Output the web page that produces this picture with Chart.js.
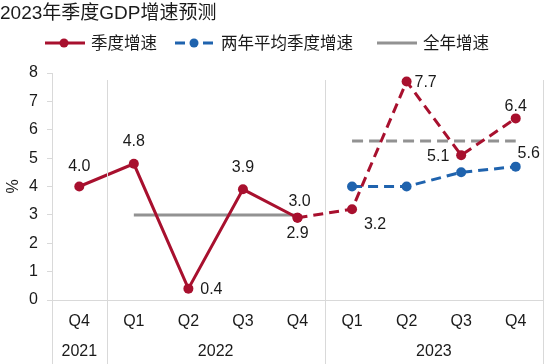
<!DOCTYPE html>
<html>
<head>
<meta charset="utf-8">
<script src="https://cdn.jsdelivr.net/npm/chart.js@4/dist/chart.umd.min.js"></script>
<style>
  html, body { margin: 0; padding: 0; background: #fff; }
  #wrap { width: 548px; height: 364px; position: relative; }
</style>
</head>
<body>
<div id="wrap"><canvas id="chart"></canvas></div>
<script>
const quarters = ["Q4", "Q1", "Q2", "Q3", "Q4", "Q1", "Q2", "Q3", "Q4"];
const years = ["2021", "2022", "2022", "2022", "2022", "2023", "2023", "2023", "2023"];
const actualGrowth = [4.0, 4.8, 0.4, 3.9, 2.9, null, null, null, null];
const forecastGrowth = [null, null, null, null, 2.9, 3.2, 7.7, 5.1, 6.4];
const twoYearAvg = [null, null, null, null, null, 4.0, 4.0, 4.5, 4.7];
const annual2022 = [null, 3.0, 3.0, 3.0, 3.0, null, null, null, null];
const annual2023 = [null, null, null, null, null, 5.6, 5.6, 5.6, 5.6];
const yTicks = [0, 1, 2, 3, 4, 5, 6, 7, 8];

const RED = "#A8102E";
const BLUE = "#1F63AE";
const GRAY = "#929292";
const LINE = "#d9d9d9";
const FONT = "Arial, 'Liberation Sans', 'Noto Sans CJK SC', sans-serif";

// which point gets a value label, and where it sits relative to the point
const labelSpots = [
    { ds: 0, i: 0, dx: 0, dy: -20 },
    { ds: 0, i: 1, dx: 0, dy: -22 },
    { ds: 0, i: 2, dx: 23, dy: 1 },
    { ds: 0, i: 3, dx: 0, dy: -22 },
    { ds: 0, i: 4, dx: 0, dy: 16 },
    { ds: 3, i: 4, dx: 2, dy: -13 },
    { ds: 1, i: 5, dx: 23, dy: 15 },
    { ds: 1, i: 6, dx: 19, dy: 1 },
    { ds: 1, i: 7, dx: -23, dy: 1 },
    { ds: 1, i: 8, dx: 0, dy: -12 },
    { ds: 4, i: 8, dx: 13, dy: 12 }
];

// legend: [dataset index, x of sample start]
const legendItems = [[0, 45], [2, 175], [3, 377]];

const valueLabels = {
    id: "valueLabels",
    afterDatasetsDraw(chart) {
        const ctx = chart.ctx;
        ctx.save();
        ctx.font = "16px " + FONT;
        ctx.fillStyle = "#1a1a1a";
        ctx.textAlign = "center";
        ctx.textBaseline = "middle";
        labelSpots.forEach(s => {
            const pt = chart.getDatasetMeta(s.ds).data[s.i];
            const v = chart.data.datasets[s.ds].data[s.i];
            ctx.fillText(v.toFixed(1), pt.x + s.dx, pt.y + s.dy);
        });
        ctx.restore();
    }
};

const groupAxis = {
    id: "groupAxis",
    afterDraw(chart) {
        const ctx = chart.ctx;
        const x = chart.scales.x;
        const area = chart.chartArea;
        const bottom = chart.height;
        ctx.save();
        ctx.strokeStyle = LINE;
        ctx.lineWidth = 1;
        // separators between years and at the right edge
        const seps = [];
        for (let i = 1; i < years.length; i++) {
            if (years[i] !== years[i - 1]) {
                seps.push((x.getPixelForValue(i - 1) + x.getPixelForValue(i)) / 2);
            }
        }
        seps.push(area.right);
        ctx.beginPath();
        seps.forEach(px => {
            ctx.moveTo(Math.round(px) + 0.5, area.top + 7);
            ctx.lineTo(Math.round(px) + 0.5, bottom);
        });
        ctx.moveTo(Math.round(area.left) + 0.5, area.bottom);
        ctx.lineTo(Math.round(area.left) + 0.5, bottom);
        ctx.stroke();
        // year labels centred under their quarters
        ctx.font = "16px " + FONT;
        ctx.fillStyle = "#1a1a1a";
        ctx.textAlign = "center";
        ctx.textBaseline = "middle";
        let start = 0;
        for (let i = 1; i <= years.length; i++) {
            if (i === years.length || years[i] !== years[start]) {
                const cx = (x.getPixelForValue(start) + x.getPixelForValue(i - 1)) / 2;
                ctx.fillText(years[start], cx, 352);
                start = i;
            }
        }
        ctx.restore();
    }
};

const customLegend = {
    id: "customLegend",
    afterDraw(chart) {
        const ctx = chart.ctx;
        const y = 43;
        ctx.save();
        ctx.font = "16.5px " + FONT;
        ctx.textBaseline = "middle";
        ctx.textAlign = "left";
        legendItems.forEach(([di, x0]) => {
            const ds = chart.data.datasets[di];
            ctx.strokeStyle = ds.borderColor;
            ctx.lineWidth = 3;
            ctx.beginPath();
            if (ds.borderDash) {
                ctx.moveTo(x0, y); ctx.lineTo(x0 + 10, y);
                ctx.moveTo(x0 + 28, y); ctx.lineTo(x0 + 38, y);
            } else {
                ctx.moveTo(x0, y); ctx.lineTo(x0 + 40, y);
            }
            ctx.stroke();
            if (ds.pointRadius > 0) {
                ctx.fillStyle = ds.borderColor;
                ctx.beginPath();
                ctx.arc(x0 + 19, y, 4.5, 0, Math.PI * 2);
                ctx.fill();
            }
            ctx.fillStyle = "#1a1a1a";
            ctx.fillText(ds.label, x0 + 46, y + 1);
        });
        ctx.restore();
    }
};

function lineSet(label, data, color, dash, radius) {
    return {
        label: label,
        data: data,
        borderColor: color,
        backgroundColor: color,
        borderWidth: 3,
        borderDash: dash,
        pointRadius: radius,
        pointHoverRadius: radius,
        pointBorderWidth: 0,
        tension: 0,
        spanGaps: false
    };
}

const chart = new Chart(document.getElementById("chart"), {
    type: "line",
    data: {
        labels: quarters,
        datasets: [
            lineSet("季度增速", actualGrowth, RED, undefined, 5),
            lineSet("季度增速预测", forecastGrowth, RED, [10, 6], 5),
            lineSet("两年平均季度增速", twoYearAvg, BLUE, [10, 6], 5),
            lineSet("全年增速", annual2022, GRAY, undefined, 0),
            lineSet("全年增速2023", annual2023, GRAY, [11, 6], 0)
        ]
    },
    options: {
        responsive: true,
        maintainAspectRatio: false,
        animation: false,
        devicePixelRatio: 1,
        layout: { padding: { left: 0, right: 3, top: 0, bottom: 0 } },
        plugins: {
            legend: { display: false },
            tooltip: { enabled: false },
            title: {
                display: true,
                text: "2023年季度GDP增速预测",
                align: "start",
                color: "#1a1a1a",
                font: { family: FONT, size: 19, weight: "normal" },
                padding: { top: 2, bottom: 48.2 }
            }
        },
        scales: {
            x: {
                type: "category",
                offset: true,
                grid: { display: false, drawTicks: false },
                border: { display: true, color: LINE, width: 1 },
                ticks: {
                    color: "#1a1a1a",
                    font: { family: FONT, size: 16 },
                    padding: 12,
                    maxRotation: 0,
                    autoSkip: false
                },
                afterFit(scale) { scale.height = 64; }
            },
            y: {
                min: 0,
                max: 8,
                afterBuildTicks(scale) { scale.ticks = yTicks.map(v => ({ value: v })); },
                grid: { drawOnChartArea: false, drawTicks: true, tickLength: 5, color: LINE },
                border: { display: true, color: LINE, width: 1 },
                ticks: {
                    color: "#1a1a1a",
                    font: { family: FONT, size: 16 },
                    padding: 9
                },
                title: {
                    display: true,
                    text: "%",
                    color: "#1a1a1a",
                    font: { family: FONT, size: 16 }
                },
                afterFit(scale) { scale.width = 52; }
            }
        }
    },
    plugins: [valueLabels, groupAxis, customLegend]
});
</script>
</body>
</html>
